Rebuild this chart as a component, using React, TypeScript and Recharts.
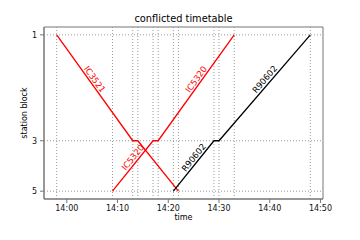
import React from 'react'
import { LineChart, Line, XAxis, YAxis, ReferenceLine, ReferenceArea } from 'recharts'

// stations shown on the y axis and their relative distance along the line
const stations = ['1', '3', '5']
const stationPos = [0, 2.1, 3.1]

const trainNames = ['IC3521', 'IC5320', 'R90602']
const trainColors = ['#ff0000', '#ff0000', '#000000']

const ic3521Times = ['13:58', '14:13', '14:14', '14:22']
const ic3521Stops = ['1', '3', '3', '5']
const ic5320Times = ['14:09', '14:17', '14:18', '14:33']
const ic5320Stops = ['5', '3', '3', '1']
const r90602Times = ['14:21', '14:29', '14:30', '14:48']
const r90602Stops = ['5', '3', '3', '1']

// running segments that carry the train name
const labelledSegments = [[0], [0, 2], [0, 2]]

const xTicks = ['14:00', '14:10', '14:20', '14:30', '14:40', '14:50']

const FONT = '"DejaVu Sans", sans-serif'

const toMin = (s: string) => {
  const [h, m] = s.split(':').map(Number)
  return (h - 14) * 60 + m
}
const fmtMin = (v: number) => {
  const total = 14 * 60 + v
  return `${Math.floor(total / 60)}:${String(total % 60).padStart(2, '0')}`
}

const makeTrain = (times: string[], stops: string[]) =>
  times.map((t, i) => ({ t: toMin(t), pos: stationPos[stations.indexOf(stops[i])] }))

const trains = [
  makeTrain(ic3521Times, ic3521Stops),
  makeTrain(ic5320Times, ic5320Stops),
  makeTrain(r90602Times, r90602Stops),
]

const allT = trains.flat().map((p) => p.t)
const tMin = Math.min(...allT)
const tMax = Math.max(...allT)
const tPad = (tMax - tMin) * 0.05
const xDomain = [tMin - tPad, tMax + tPad]
const pMin = Math.min(...stationPos)
const pMax = Math.max(...stationPos)
const pPad = (pMax - pMin) * 0.05
const yDomain = [pMin - pPad, pMax + pPad]

const eventTimes = Array.from(new Set(allT)).sort((a, b) => a - b)

// rotated train name sitting above the middle of a segment
const segLabel = (name: string, color: string, down: boolean) => (props: any) => {
  const vb = props.viewBox
  if (!vb) return null
  const cx = vb.x + vb.width / 2
  const cy = vb.y + vb.height / 2 - 8.5
  const ang = (Math.atan2(vb.height, vb.width) * 180) / Math.PI * (down ? 1 : -1)
  return (
    <text
      x={cx}
      y={cy}
      fill={color}
      fontSize={8.5}
      fontFamily={FONT}
      textAnchor="middle"
      dominantBaseline="central"
      transform={`rotate(${ang} ${cx} ${cy})`}
    >
      {name}
    </text>
  )
}

export default function App() {
  return (
    <div style={{ position: 'absolute', left: 0, top: 0, width: 360, height: 240, background: '#fff', fontFamily: FONT }}>
      <div style={{ position: 'absolute', left: 44, width: 279, top: 13, textAlign: 'center', fontSize: 9.8, lineHeight: '12px', color: '#000' }}>
        conflicted timetable
      </div>
      <div style={{ position: 'absolute', left: 44, width: 279, top: 213, textAlign: 'center', fontSize: 8, lineHeight: '10px', color: '#000' }}>
        time
      </div>
      <div
        style={{
          position: 'absolute', left: 25, top: 113, width: 100, marginLeft: -50, marginTop: -5,
          textAlign: 'center', fontSize: 8, lineHeight: '10px', color: '#000', transform: 'rotate(-90deg)',
        }}
      >
        station block
      </div>
      <LineChart width={360} height={240} margin={{ top: 27, right: 37, bottom: 11, left: 0 }}>
        <XAxis
          dataKey="t"
          type="number"
          domain={xDomain}
          ticks={xTicks.map(toMin)}
          tickFormatter={fmtMin}
          height={30}
          tickSize={4}
          tickMargin={2}
          stroke="#777"
          tick={{ fill: '#111', fontSize: 8, fontFamily: FONT }}
          allowDataOverflow
        />
        <YAxis
          type="number"
          reversed
          domain={yDomain}
          ticks={stationPos}
          tickFormatter={(v: number) => stations[stationPos.indexOf(v)]}
          width={44}
          tickSize={4}
          tickMargin={3}
          stroke="#777"
          tick={{ fill: '#111', fontSize: 8, fontFamily: FONT }}
          allowDataOverflow
        />
        <ReferenceArea x1={xDomain[0]} x2={xDomain[1]} y1={yDomain[0]} y2={yDomain[1]} fill="none" stroke="#777" strokeWidth={1} />
        {eventTimes.map((t) => (
          <ReferenceLine key={`v${t}`} x={t} stroke="#999" strokeDasharray="1 2" strokeWidth={1} />
        ))}
        {stationPos.map((p) => (
          <ReferenceLine key={`h${p}`} y={p} stroke="#999" strokeDasharray="1 2" strokeWidth={1} />
        ))}
        {trains.map((pts, i) => (
          <Line
            key={trainNames[i]}
            data={pts}
            dataKey="pos"
            type="linear"
            stroke={trainColors[i]}
            strokeWidth={1.3}
            dot={false}
            isAnimationActive={false}
          />
        ))}
        {trains.map((pts, i) =>
          labelledSegments[i].map((s) => (
            <ReferenceLine
              key={`l${i}-${s}`}
              segment={[
                { x: pts[s].t, y: pts[s].pos },
                { x: pts[s + 1].t, y: pts[s + 1].pos },
              ]}
              stroke="none"
              label={segLabel(trainNames[i], trainColors[i], pts[s + 1].pos > pts[s].pos)}
            />
          ))
        )}
      </LineChart>
    </div>
  )
}
